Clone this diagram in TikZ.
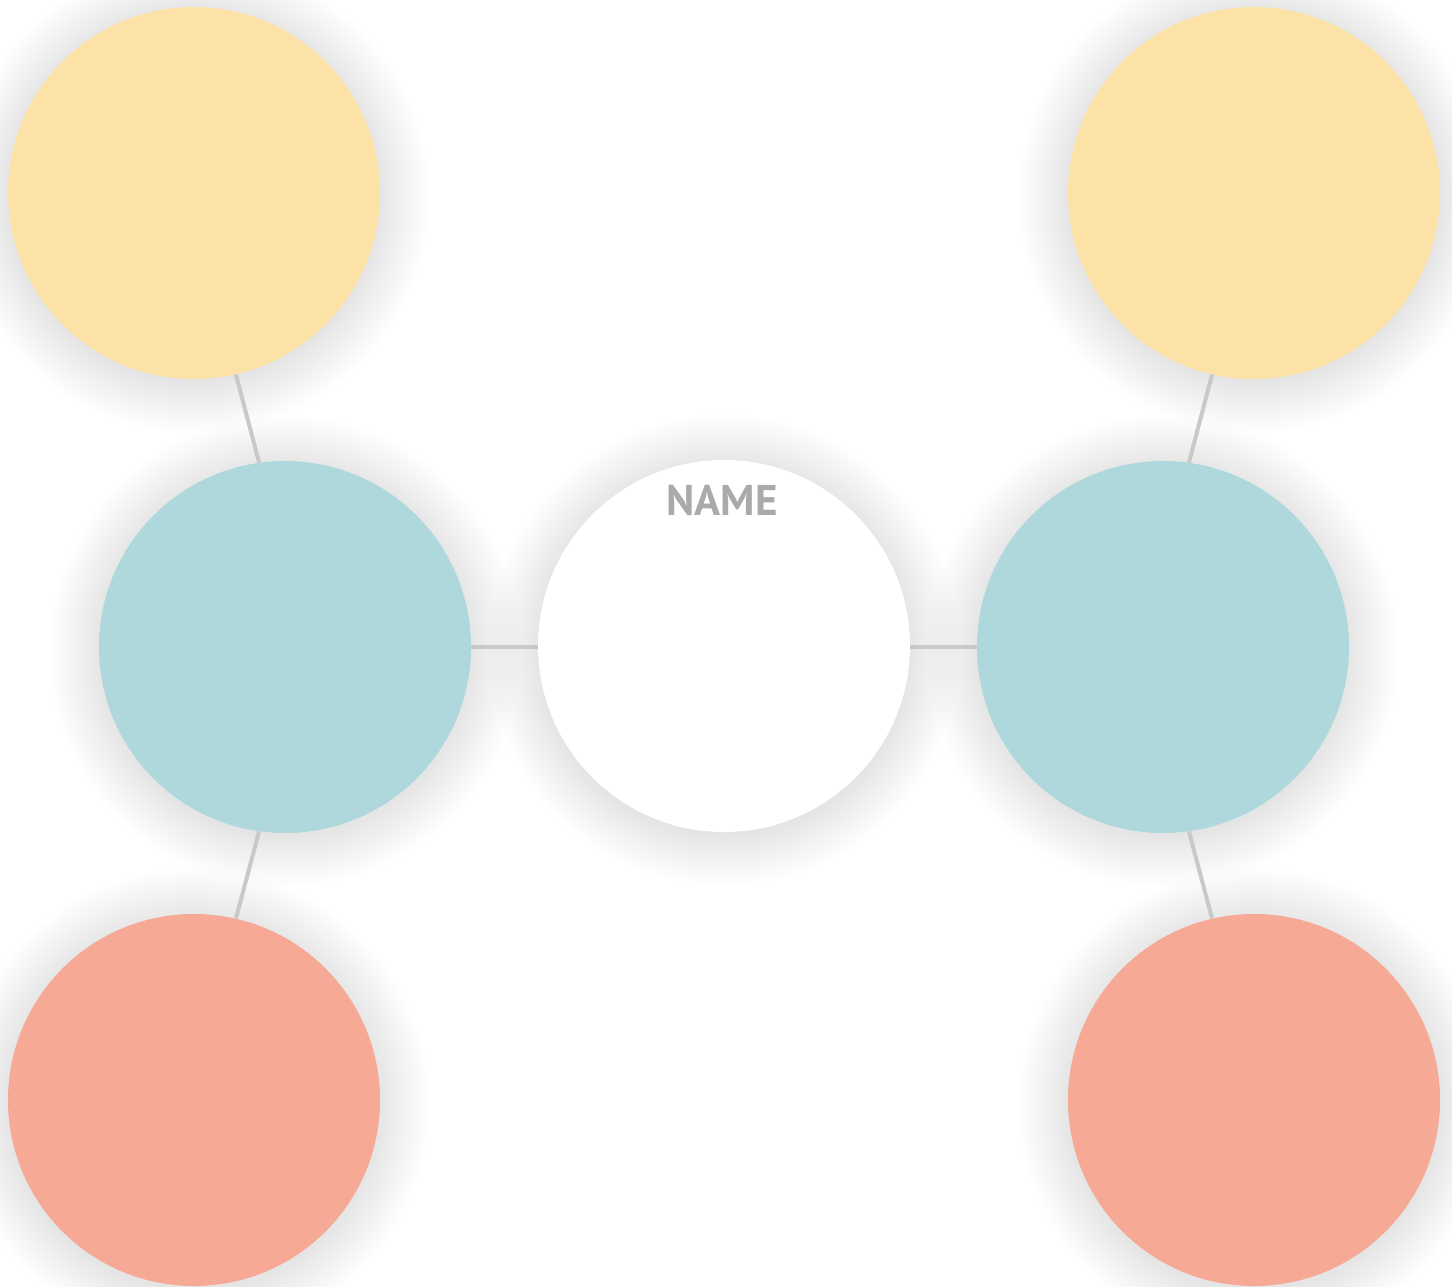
\documentclass[tikz,border=0pt]{standalone}
\usepackage{fontspec}
\setsansfont{PT Sans}
\definecolor{sunny}{HTML}{FDE2A7}
\definecolor{aqua}{HTML}{AED8DB}
\definecolor{coral}{HTML}{F6A994}
\definecolor{linkgray}{HTML}{C9C9C9}
\definecolor{labelgray}{HTML}{A9AAAC}
\tikzset{
  bubble/.style={circle, minimum size=372pt, inner sep=0pt, draw=none},
  link/.style={draw=linkgray, line width=4pt},
  haze/.style={fill=black, opacity=0.0045},
}
\begin{document}
\begin{tikzpicture}[x=1pt, y=-1pt]
  \useasboundingbox (0,0) rectangle (1452,1287);
  \fill[white] (0,0) rectangle (1452,1287);
  % soft shadows: stacked faint discs growing outwards
  \foreach \cx/\cy in {194/193, 1254/193, 194/1100, 1254/1100, 285/647, 1163/647, 724/646}
    \foreach \k in {1,...,26}
      \fill[haze] (\cx,\cy+4) circle[radius=184pt+2*\k pt];
  % bubbles
  \node[bubble, fill=sunny] (tl) at (194,193) {};
  \node[bubble, fill=sunny] (tr) at (1254,193) {};
  \node[bubble, fill=coral] (bl) at (194,1100) {};
  \node[bubble, fill=coral] (br) at (1254,1100) {};
  \node[bubble, fill=aqua] (ml) at (285,647) {};
  \node[bubble, fill=aqua] (mr) at (1163,647) {};
  \node[bubble, fill=white] (center) at (724,646) {};
  % connectors between bubble rims
  \draw[link] (tl.-77) -- (ml.98);
  \draw[link] (ml.-98) -- (bl.77);
  \draw[link] (tr.-103) -- (mr.82);
  \draw[link] (mr.-82) -- (br.103);
  \draw[link] (ml.east) -- (ml.east -| center.west);
  \draw[link] (mr.west -| center.east) -- (mr.west);
  \node[anchor=base, text=labelgray, font=\sffamily\bfseries\fontsize{43}{43}\selectfont, inner sep=0pt] (name) at (722,515) {NAME};
\end{tikzpicture}
\end{document}
